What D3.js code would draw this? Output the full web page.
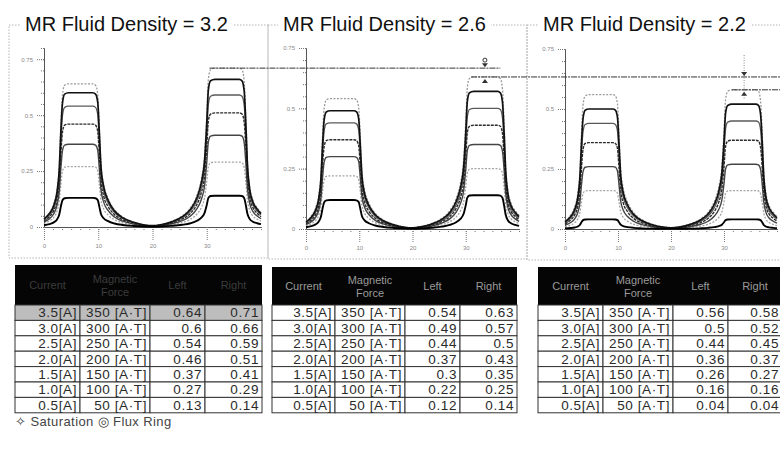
<!DOCTYPE html>
<html><head><meta charset="utf-8">
<script src="https://cdnjs.cloudflare.com/ajax/libs/d3/7.8.5/d3.min.js"></script>
<style>body{margin:0;background:#fff}svg{display:block}</style>
</head><body><svg id="c" width="780" height="454"></svg>
<script>
// ---------- data ----------
const densities = ["3.2", "2.6", "2.2"];
const currents = ["3.5[A]", "3.0[A]", "2.5[A]", "2.0[A]", "1.5[A]", "1.0[A]", "0.5[A]"];
const forces = ["350 [A·T]", "300 [A·T]", "250 [A·T]", "200 [A·T]", "150 [A·T]", "100 [A·T]", "50 [A·T]"];
const headers = ["Current", "Magnetic Force", "Left", "Right"];
const left32 = [0.64, 0.6, 0.54, 0.46, 0.37, 0.27, 0.13];
const right32 = [0.71, 0.66, 0.59, 0.51, 0.41, 0.29, 0.14];
const left26 = [0.54, 0.49, 0.44, 0.37, 0.3, 0.22, 0.12];
const right26 = [0.63, 0.57, 0.5, 0.43, 0.35, 0.25, 0.14];
const left22 = [0.56, 0.5, 0.44, 0.36, 0.26, 0.16, 0.04];
const right22 = [0.58, 0.52, 0.45, 0.37, 0.27, 0.16, 0.04];
// normalized flux-density profile (position, fraction of plateau)
const profileX = [0, 1, 1.8, 2.4, 2.8, 3.1, 3.4, 3.8, 4.5, 9, 9.5, 9.9, 10.2, 10.5, 11, 11.8, 13, 14.5, 16.5, 18.5, 20,
  21.5, 23.5, 25.5, 27, 28.2, 29, 29.6, 30, 30.3, 30.7, 31.5, 36, 36.5, 36.9, 37.2, 37.5, 37.9, 38.5, 39.3, 40];
const profileF = [0.06, 0.1, 0.16, 0.26, 0.42, 0.7, 0.92, 0.99, 1, 1, 0.99, 0.93, 0.7, 0.45, 0.3, 0.2, 0.12, 0.07, 0.035, 0.015, 0.01,
  0.015, 0.035, 0.07, 0.12, 0.2, 0.3, 0.45, 0.7, 0.93, 0.99, 1, 1, 0.99, 0.92, 0.7, 0.42, 0.26, 0.17, 0.12, 0.09];
const xMajorTicks = [0, 10, 20, 30];
const yMajorTicks = [0, 0.25, 0.5, 0.75];
const legendText = "✧  Saturation  ◎  Flux Ring";

const leftVals = [left32, left26, left22];
const rightVals = [right32, right26, right22];

// ---------- layout ----------
const panels = [
  {bx0: 9, bx1: 268, by1: 258, tx: 25, xr: [44, 261], yd: 0.8, yr: [227, 48], cols: [15, 80, 150, 205, 262], hy: 265},
  {bx0: 268, bx1: 527, by1: 259, tx: 283, xr: [306, 519], yd: 0.75, yr: [229, 48], cols: [272, 335, 405, 460, 517], hy: 267},
  {bx0: 527, bx1: 786, by1: 260, tx: 543, xr: [565, 777], yd: 0.75, yr: [229, 49], cols: [538, 603, 673, 728, 782], hy: 267}
];
const strokes = ['#9a9a9a', '#111', '#5a5a5a', '#2a2a2a', '#444', '#a5a5a5', '#000'];
const dashes = ['2,1.5', null, null, '3,1', null, '2,1.5', null];
const widths = [1.3, 1.7, 1.3, 1.4, 1.4, 1.3, 1.9];
const FONT = "'Liberation Sans', Arial, sans-serif";

const svg = d3.select("#c");
const scales = [];

panels.forEach((p, pi) => {
  const g = svg.append("g");
  // panel frame
  g.append("rect").attr("x", p.bx0).attr("y", 25).attr("width", p.bx1 - p.bx0).attr("height", p.by1 - 25)
    .attr("fill", "none").attr("stroke", "#b5b5b5").attr("stroke-dasharray", "1.5,1.5");
  // title
  const t = g.append("text").attr("x", p.tx).attr("y", 31).attr("font-family", FONT).attr("font-size", 20)
    .attr("fill", "#111").text("MR Fluid Density = " + densities[pi]);
  const bb = t.node().getBBox();
  g.insert("rect", "text").attr("x", bb.x - 5).attr("y", bb.y).attr("width", bb.width + 10).attr("height", bb.height)
    .attr("fill", "#fff");

  const x = d3.scaleLinear().domain([0, 40]).range(p.xr);
  const y = d3.scaleLinear().domain([0, p.yd]).range(p.yr);
  scales.push({x, y});

  // axes
  const yMinor = d3.range(0, p.yd + 0.001, 0.05);
  const ya = g.append("g").attr("transform", `translate(${p.xr[0]},0)`)
    .call(d3.axisLeft(y).tickValues(yMinor).tickSize(3).tickSizeOuter(0).tickFormat(""));
  const yb = g.append("g").attr("transform", `translate(${p.xr[0]},0)`)
    .call(d3.axisLeft(y).tickValues(yMajorTicks).tickSize(8).tickSizeOuter(0).tickFormat(d => d === 0 ? "0" : String(d)));
  const xMinor = d3.range(0, 40.01, 10 / 6);
  const xa = g.append("g").attr("transform", `translate(0,${p.yr[0]})`)
    .call(d3.axisBottom(x).tickValues(xMinor).tickSize(4).tickSizeOuter(0).tickFormat(""));
  const xb = g.append("g").attr("transform", `translate(0,${p.yr[0]})`)
    .call(d3.axisBottom(x).tickValues(xMajorTicks).tickSize(14).tickSizeOuter(0).tickFormat(d => String(d)));
  [ya, yb, xa, xb].forEach(a => {
    a.selectAll("path").attr("stroke", "#555").attr("stroke-width", 1);
    a.selectAll("line").attr("stroke", "#777").attr("stroke-dasharray", "1,1");
    a.selectAll("text").attr("font-family", FONT).attr("font-size", 6).attr("fill", "#888");
  });

  // curves
  const line = d3.line().x(d => x(d[0])).y(d => y(d[1])).curve(d3.curveMonotoneX);
  const L = leftVals[pi], R = rightVals[pi];
  const order = [0, 5, 2, 4, 3, 1, 6];
  order.forEach(k => {
    const pts = profileX.map((px, i) => [px, profileF[i] * (px <= 20 ? L[k] : R[k])]);
    g.append("path").attr("d", line(pts)).attr("fill", "none")
      .attr("stroke", strokes[k]).attr("stroke-width", widths[k])
      .attr("stroke-dasharray", dashes[k]);
  });

  // table
  const c = p.cols;
  const hb = 305, rh = 15.4;
  g.append("rect").attr("x", c[0]).attr("y", p.hy).attr("width", c[4] - c[0]).attr("height", hb - p.hy).attr("fill", "#050505");
  const hcol = pi === 0 ? "#3c3c3c" : "#9a9a9a";
  headers.forEach((h, j) => {
    const cx = (c[j] + c[j + 1]) / 2;
    const words = h.split(" ");
    const tt = g.append("text").attr("x", cx).attr("text-anchor", "middle").attr("font-family", FONT)
      .attr("font-size", 11).attr("fill", hcol);
    const mid = (p.hy + hb) / 2;
    words.forEach((w, wi) => {
      tt.append("tspan").attr("x", cx).attr("y", mid + 4 + (wi - (words.length - 1) / 2) * 13).text(w);
    });
  });
  currents.forEach((cur, r) => {
    const y0 = hb + r * rh;
    for (let j = 0; j < 4; j++) {
      g.append("rect").attr("x", c[j]).attr("y", y0).attr("width", c[j + 1] - c[j]).attr("height", rh)
        .attr("fill", pi === 0 && r === 0 ? "#bdbdbd" : "#fff").attr("stroke", "#333").attr("stroke-width", 1);
    }
    const vals = [cur, forces[r], String(L[r]), String(R[r])];
    vals.forEach((v, j) => {
      g.append("text").attr("x", c[j + 1] - 3).attr("y", y0 + rh - 3).attr("text-anchor", "end")
        .attr("font-family", FONT).attr("font-size", 13.5).attr("letter-spacing", 0.6)
        .attr("fill", "#2a2a2a").text(v);
    });
  });
});

// reference lines linking saturation levels between panels
const s = scales;
const yA = s[0].y(right32[0]), yB = s[1].y(right26[0]), yC = s[2].y(right22[0]);
const ref = svg.append("g").attr("stroke", "#333").attr("stroke-width", 1);
ref.append("line").attr("x1", s[0].x(30.5)).attr("x2", s[1].x(36.5)).attr("y1", yA).attr("y2", yA).attr("stroke-dasharray", "6,1,2,1");
ref.append("line").attr("x1", s[1].x(31)).attr("x2", 780).attr("y1", yB).attr("y2", yB).attr("stroke-dasharray", "6,1,2,1");
ref.append("line").attr("x1", s[2].x(31.5)).attr("x2", 780).attr("y1", yC).attr("y2", yC).attr("stroke-dasharray", "6,1,2,1");
// markers
const tri = (cx, cy, down) => down
  ? `M${cx - 3},${cy - 4}L${cx + 3},${cy - 4}L${cx},${cy}Z`
  : `M${cx - 3},${cy + 4}L${cx + 3},${cy + 4}L${cx},${cy}Z`;
const mx2 = s[1].x(33.6), mx3 = s[2].x(33.8);
svg.append("circle").attr("cx", mx2).attr("cy", yA - 8).attr("r", 2).attr("fill", "none").attr("stroke", "#333");
svg.append("path").attr("d", tri(mx2, yA - 1, true)).attr("fill", "#333");
svg.append("path").attr("d", tri(mx2, yB + 2, false)).attr("fill", "#333");
svg.append("line").attr("x1", mx3).attr("x2", mx3).attr("y1", 55).attr("y2", yC + 10)
  .attr("stroke", "#888").attr("stroke-dasharray", "1,1.5");
svg.append("path").attr("d", tri(mx3, yB - 1, true)).attr("fill", "#333");
svg.append("path").attr("d", tri(mx3, yC + 2, false)).attr("fill", "#333");

// legend
svg.append("text").attr("x", 15).attr("y", 426).attr("font-family", FONT).attr("font-size", 13)
  .attr("fill", "#444").attr("letter-spacing", 0.4).text(legendText);
</script></body></html>
